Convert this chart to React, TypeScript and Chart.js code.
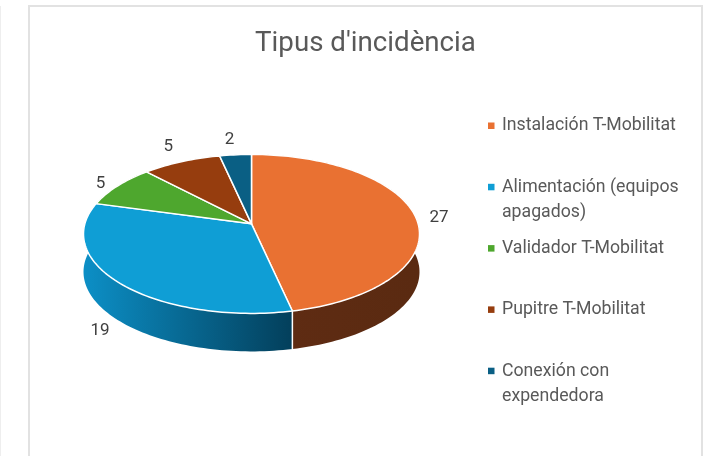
import React, { useEffect, useRef } from "react";
import { Chart, registerables } from "chart.js";

Chart.register(...registerables);

const categories = [
  "Instalación T-Mobilitat",
  "Alimentación (equipos apagados)",
  "Validador T-Mobilitat",
  "Pupitre T-Mobilitat",
  "Conexión con expendedora",
];
const legendLines = [
  ["Instalación T-Mobilitat"],
  ["Alimentación (equipos", "apagados)"],
  ["Validador T-Mobilitat"],
  ["Pupitre T-Mobilitat"],
  ["Conexión con", "expendedora"],
];
const values = [27, 19, 5, 5, 2];
const sliceColors = ["#E97132", "#0F9ED5", "#4EA72E", "#963D0E", "#0A5F84"];
const wallColors = [
  ["#602C13", "#5A2A11"],
  ["#0C8FC6", "#033F5B"],
  ["#2E6A1A", "#2E6A1A"],
  ["#5F2608", "#5F2608"],
  ["#063A52", "#063A52"],
];
const labelNudges = [
  [24, 2.5],
  [-19, 48],
  [-17, -2.5],
  [-13, -14.5],
  [-6, -15.5],
];

const TILT = 79 / 167;
const K = 10 / 79;
const DEPTH = 38;
const FONT = "Roboto, 'Open Sans', sans-serif";

const pie3d = {
  id: "pie3d",
  afterLayout(chart: any) {
    const t = chart.titleBlock;
    if (t) {
      t.left = 0;
      t.right = chart.width;
      t.width = chart.width;
    }
  },
  beforeDatasetsDraw(chart: any) {
    const ctx = chart.ctx;
    const arcs = chart.getDatasetMeta(0).data;
    const project = (angle: number, s: number, arc: any) => {
      const R = arc.outerRadius;
      const u = Math.cos(angle) * s;
      const v = -Math.sin(angle) * s;
      const w = 1 + K * v;
      const a = R * Math.sqrt(1 - K * K);
      const b = R * TILT;
      return { x: arc.x + (a * u) / w, y: arc.y - (b * v + b * K) / w };
    };
    const rim = (arc: any) => {
      const pts = [];
      const n = Math.max(8, Math.ceil((arc.endAngle - arc.startAngle) * 40));
      for (let i = 0; i <= n; i++) {
        pts.push(project(arc.startAngle + ((arc.endAngle - arc.startAngle) * i) / n, 1, arc));
      }
      return pts;
    };
    ctx.save();
    // side walls
    arcs.forEach((arc: any, i: number) => {
      const pts = rim(arc);
      const xs = pts.map((p: any) => p.x);
      const g = ctx.createLinearGradient(Math.min(...xs), 0, Math.max(...xs), 0);
      g.addColorStop(0, wallColors[i][0]);
      g.addColorStop(1, wallColors[i][1]);
      ctx.beginPath();
      pts.forEach((p: any, j: number) => (j ? ctx.lineTo(p.x, p.y) : ctx.moveTo(p.x, p.y)));
      [...pts].reverse().forEach((p: any) => ctx.lineTo(p.x, p.y + DEPTH));
      ctx.closePath();
      ctx.fillStyle = g;
      ctx.fill();
    });
    // visible wall seam
    arcs.forEach((arc: any) => {
      if (Math.sin(arc.endAngle) > 0.5) {
        const p = project(arc.endAngle, 1, arc);
        ctx.beginPath();
        ctx.moveTo(p.x, p.y);
        ctx.lineTo(p.x, p.y + DEPTH);
        ctx.strokeStyle = "#FFFFFF";
        ctx.lineWidth = 1.5;
        ctx.stroke();
      }
    });
    // top faces
    arcs.forEach((arc: any) => {
      const c = project(0, 0, arc);
      ctx.beginPath();
      ctx.moveTo(c.x, c.y);
      rim(arc).forEach((p: any) => ctx.lineTo(p.x, p.y));
      ctx.closePath();
      ctx.fillStyle = arc.options.backgroundColor;
      ctx.fill();
      ctx.strokeStyle = "#FFFFFF";
      ctx.lineWidth = 1.5;
      ctx.lineJoin = "round";
      ctx.stroke();
    });
    // value labels
    ctx.font = `17px ${FONT}`;
    ctx.fillStyle = "#404040";
    ctx.textAlign = "center";
    ctx.textBaseline = "middle";
    arcs.forEach((arc: any, i: number) => {
      const p = project((arc.startAngle + arc.endAngle) / 2, 1, arc);
      ctx.fillText(String(values[i]), p.x + labelNudges[i][0], p.y + labelNudges[i][1]);
    });
    ctx.restore();
    return false;
  },
};

const sideLegend = {
  id: "sideLegend",
  afterDraw(chart: any) {
    const ctx = chart.ctx;
    const left = 458;
    const textLeft = 472;
    const top = 118;
    const pitch = 61.3;
    const lineGap = 25.5;
    ctx.save();
    ctx.font = `17.7px ${FONT}`;
    ctx.textBaseline = "middle";
    ctx.textAlign = "left";
    legendLines.forEach((lines, i) => {
      const y = top + pitch * i;
      ctx.fillStyle = sliceColors[i];
      ctx.fillRect(left, y - 2.5, 6.5, 6.5);
      ctx.fillStyle = "#595959";
      lines.forEach((line, j) => ctx.fillText(line, textLeft, y + 1 + j * lineGap));
    });
    ctx.restore();
  },
};

export default function App() {
  const ref = useRef<HTMLCanvasElement>(null);
  useEffect(() => {
    const chart = new Chart(ref.current!, {
      type: "pie",
      data: {
        labels: categories,
        datasets: [{ data: values, backgroundColor: sliceColors, borderWidth: 0 }],
      },
      options: {
        responsive: false,
        animation: false,
        layout: { padding: { left: 53.5, right: 281.5, top: 0, bottom: 54 } },
        plugins: {
          legend: { display: false },
          tooltip: { enabled: false },
          title: {
            display: true,
            text: "Tipus d'incidència",
            color: "#595959",
            font: { family: FONT, size: 27.7, weight: "normal", lineHeight: 1.2 },
            padding: { top: 20.7, bottom: 4.9 },
          },
        },
      },
      plugins: [pie3d, sideLegend],
    } as any);
    return () => chart.destroy();
  }, []);
  return (
    <div style={{ position: "fixed", inset: 0, background: "#FFFFFF", overflow: "hidden" }}>
      <div style={{ position: "absolute", left: 0, top: 6, width: 1, height: 450, background: "#EEEEEE" }} />
      <div
        style={{
          position: "absolute",
          left: 28,
          top: 5,
          width: 671,
          height: 470,
          border: "2px solid #E2E2E2",
          background: "#FFFFFF",
        }}
      >
        <canvas ref={ref} width={671} height={449} style={{ display: "block", filter: "blur(0.5px)" }} />
      </div>
    </div>
  );
}
